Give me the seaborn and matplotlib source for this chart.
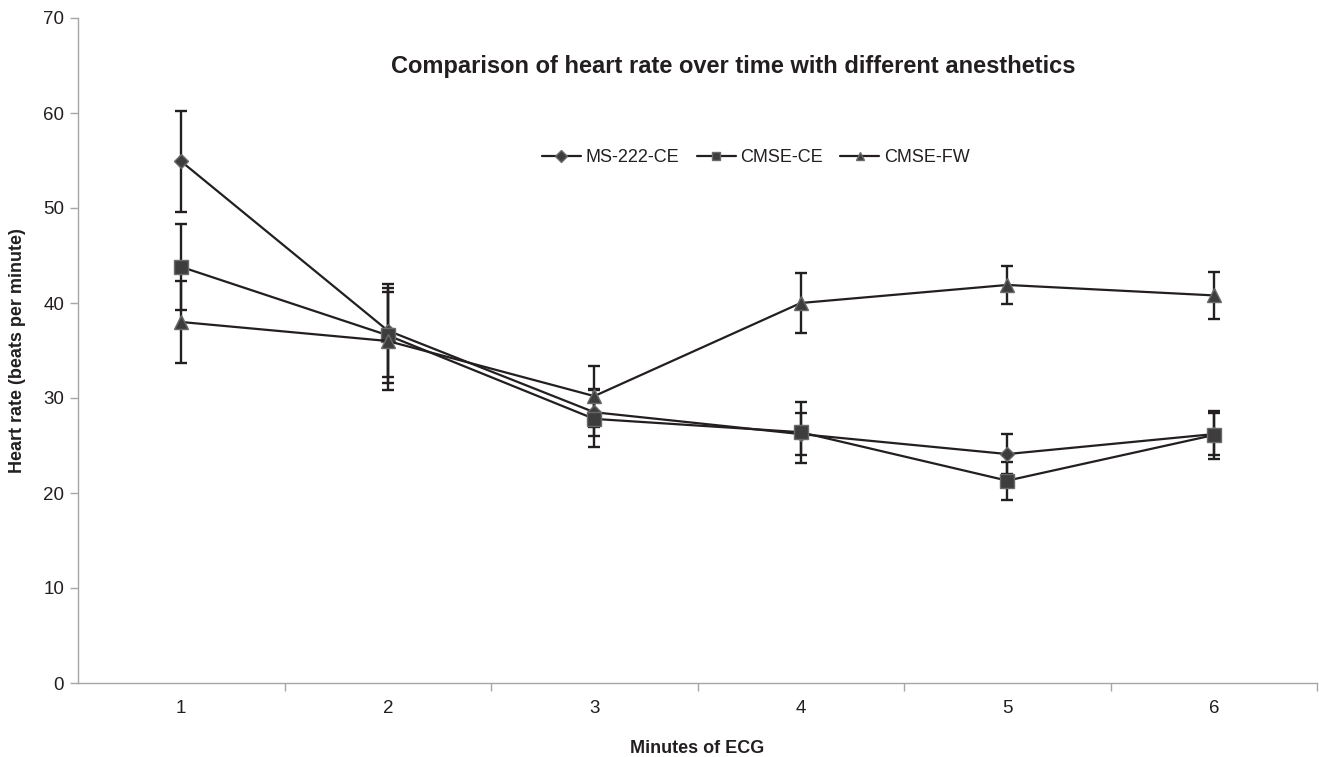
import matplotlib
matplotlib.use("Agg")
import matplotlib.pyplot as plt
import seaborn as sns
import pandas as pd
import numpy as np

# ---- data ----
minutes = [1, 2, 3, 4, 5, 6]
series_names = ["MS-222-CE", "CMSE-CE", "CMSE-FW"]
ms222_ce = [54.9, 37.1, 28.5, 26.2, 24.1, 26.2]
ms222_ce_err = [5.3, 4.9, 2.5, 2.2, 2.1, 2.2]
cmse_ce = [43.8, 36.6, 27.8, 26.4, 21.3, 26.1]
cmse_ce_err = [4.5, 5.0, 3.0, 3.2, 2.0, 2.5]
cmse_fw = [38.0, 36.0, 30.2, 40.0, 41.9, 40.8]
cmse_fw_err = [4.3, 5.2, 3.2, 3.2, 2.0, 2.5]
y_ticks = [0, 10, 20, 30, 40, 50, 60, 70]

title = "Comparison of heart rate over time with different anesthetics"
x_label = "Minutes of ECG"
y_label = "Heart rate (beats per minute)"

sns.set_style("white")
plt.rcParams["font.family"] = ["Liberation Sans", "DejaVu Sans"]

fig = plt.figure(figsize=(13.19, 7.57), dpi=100)
ax = fig.add_axes([78 / 1319, 1 - 683 / 757, (1317 - 78) / 1319, (683 - 18) / 757])

values = [ms222_ce, cmse_ce, cmse_fw]
errors = [ms222_ce_err, cmse_ce_err, cmse_fw_err]
markers = ["D", "s", "^"]
msizes = [7, 9.5, 10.5]

text_color = "#231f20"

for name, vals, errs, mk, ms in zip(series_names, values, errors, markers, msizes):
    df = pd.DataFrame({"minute": minutes, "hr": vals})
    ax.errorbar(df["minute"], df["hr"], yerr=errs, fmt="none", ecolor="#231f20",
                elinewidth=1.7, capsize=4, capthick=1.7, zorder=2)
    sns.lineplot(data=df, x="minute", y="hr", ax=ax, color="#231f20", linewidth=1.6,
                 marker=mk, markersize=ms, markerfacecolor="#3d3d3d",
                 markeredgecolor="#6a6a6a", markeredgewidth=1.0, label=name, zorder=3)

ax.set_xlim(0.5, 6.5)
ax.set_ylim(0, 70)
ax.set_yticks(y_ticks)
ax.set_xticks(minutes)
ax.set_xticks(np.arange(1.5, 6.6, 1.0), minor=True)

for s in ["top", "right"]:
    ax.spines[s].set_visible(False)
for s in ["left", "bottom"]:
    ax.spines[s].set_color("#a6a6a6")
    ax.spines[s].set_linewidth(1.0)

ax.tick_params(axis="y", which="major", direction="out", length=6, width=1,
               color="#a6a6a6", labelsize=13.5, labelcolor=text_color, pad=4, left=True)
ax.tick_params(axis="x", which="major", length=0, labelsize=13.5, labelcolor=text_color, pad=12)
ax.tick_params(axis="x", which="minor", direction="out", length=6, width=1,
               color="#a6a6a6", bottom=True)

ax.set_xlabel(x_label, fontsize=13, fontweight="bold", color=text_color, labelpad=17)
ax.set_ylabel(y_label, fontsize=13, fontweight="bold", color=text_color, labelpad=12)

fig.text(0.556, 1 - 67 / 757, title, ha="center", va="center", fontsize=17,
         fontweight="bold", color=text_color)

leg = ax.legend(loc="center", bbox_to_anchor=(756 / 1319, 1 - 158 / 757),
                bbox_transform=fig.transFigure, ncol=3, frameon=False, fontsize=13,
                handlelength=2.15, columnspacing=0.95, handletextpad=0.28)
for t in leg.get_texts():
    t.set_color(text_color)
for h in leg.legend_handles:
    h.set_markersize(6)

fig.savefig("out.png", dpi=100)
